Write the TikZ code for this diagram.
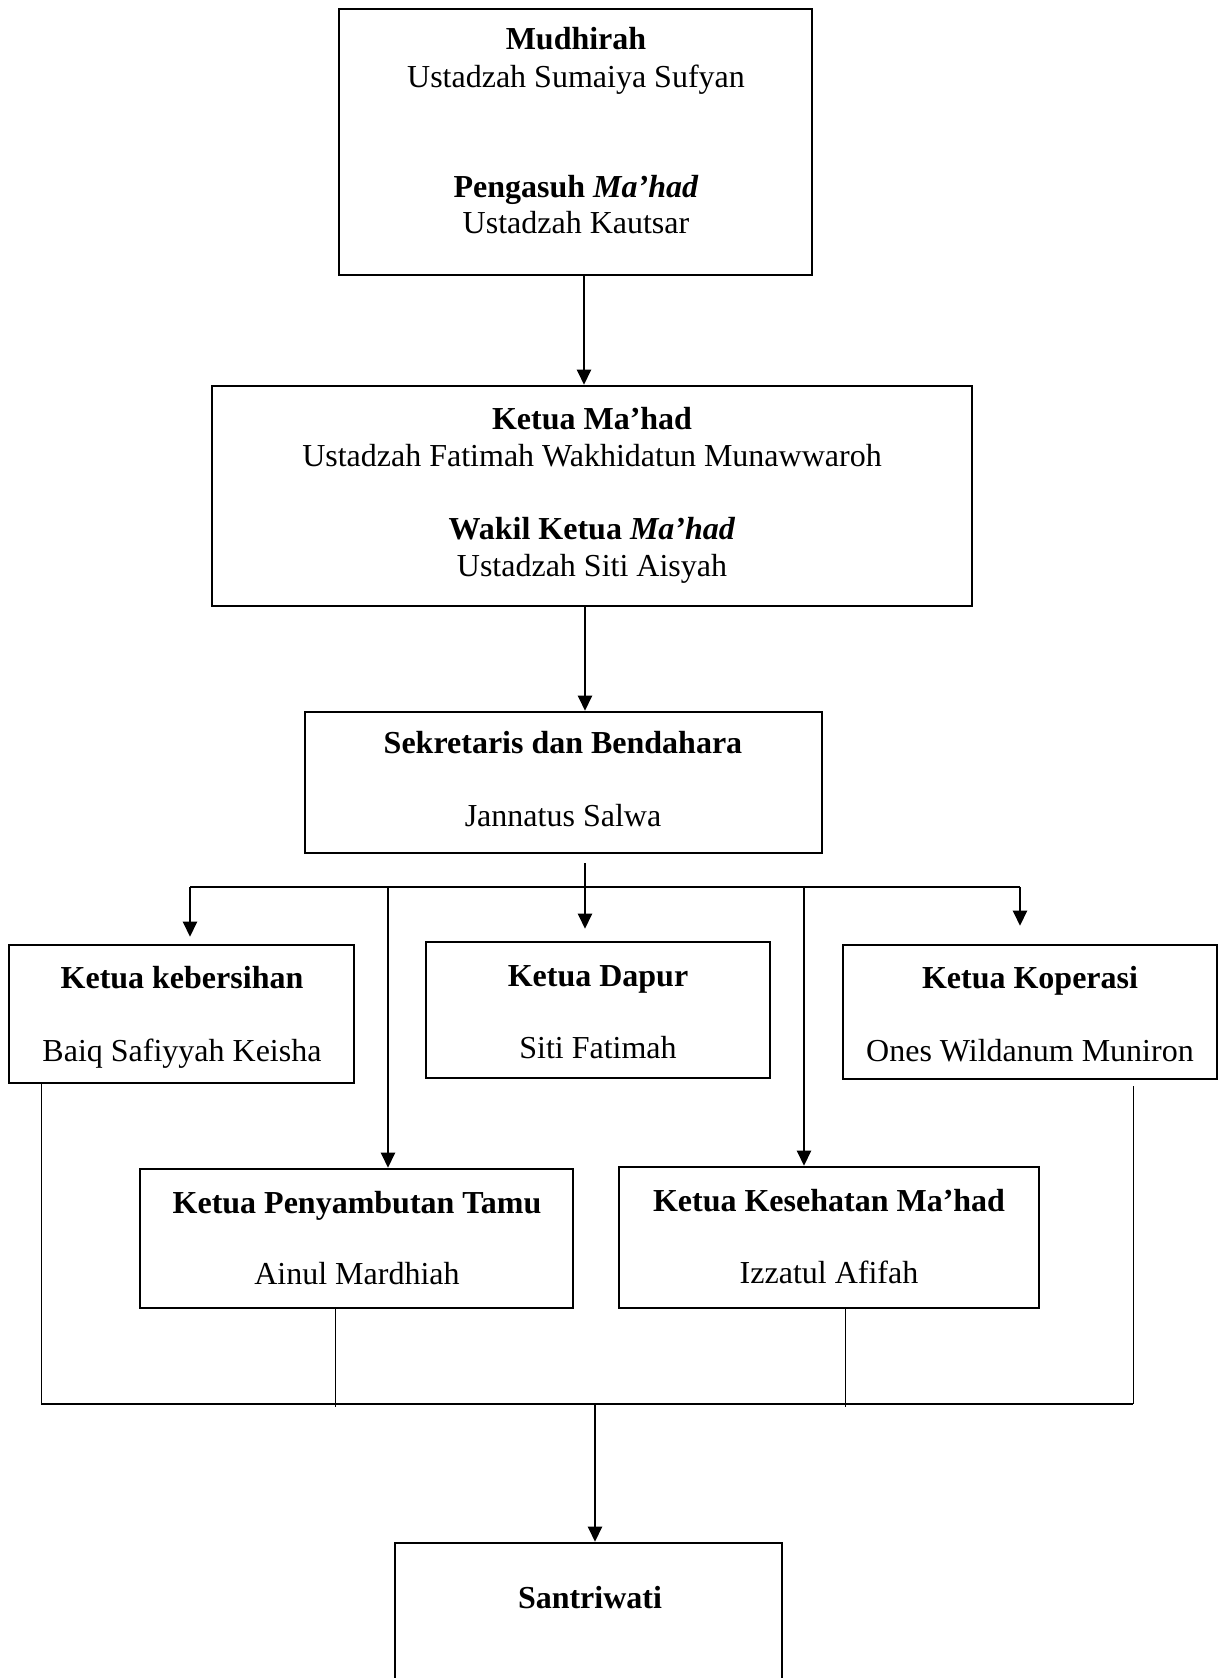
\documentclass[tikz,border=0pt]{standalone}
\usepackage{fontspec}
\setmainfont{Liberation Serif}
\usetikzlibrary{arrows.meta}
\begin{document}
\begin{tikzpicture}[x=0.5pt,y=-0.5pt,
  box/.style={draw,line width=1.3pt,rectangle,inner sep=0pt},
  lbl/.style={anchor=base,inner sep=0pt,font=\fontsize{16}{19}\selectfont},
  ttl/.style={lbl,font=\fontsize{16}{19}\selectfont\bfseries},
  ln/.style={line width=1.2pt},
  thinln/.style={line width=0.5pt},
  barln/.style={line width=0.9pt},
  arr/.style={line width=1.2pt,-{Triangle[length=7.5pt,width=7pt]}}]
\useasboundingbox (0,0) rectangle (1227,1678);
\clip (0,0) rectangle (1227,1678);
% boxes
\node[box,minimum width=236.5pt,minimum height=133pt] (b1) at (575.5,142) {};
\node[box,minimum width=380pt,minimum height=110pt] (b2) at (592,496) {};
\node[box,minimum width=258.5pt,minimum height=70.5pt] (b3) at (563.5,782.5) {};
\node[box,minimum width=172.5pt,minimum height=69pt] (k1) at (181.5,1014) {};
\node[box,minimum width=172pt,minimum height=68pt] (k2) at (598,1010) {};
\node[box,minimum width=187pt,minimum height=67pt] (k3) at (1030,1012) {};
\node[box,minimum width=216.5pt,minimum height=69.5pt] (k4) at (356.5,1238.5) {};
\node[box,minimum width=210pt,minimum height=70.5pt] (k5) at (829,1237.5) {};
\node[box,minimum width=193.5pt,minimum height=78.5pt] (s) at (588.5,1621.5) {};
% texts
\node[ttl] (t1a) at (576,49) {Mudhirah};
\node[lbl] (t1b) at (576,87) {Ustadzah Sumaiya Sufyan};
\node[ttl] (t1c) at (576,197) {Pengasuh \textit{Ma’had}};
\node[lbl] (t1d) at (576,233) {Ustadzah Kautsar};
\node[ttl] (t2a) at (592,429) {Ketua Ma’had};
\node[lbl] (t2b) at (592,466) {Ustadzah Fatimah Wakhidatun Munawwaroh};
\node[ttl] (t2c) at (592,539) {Wakil Ketua \textit{Ma’had}};
\node[lbl] (t2d) at (592,576) {Ustadzah Siti Aisyah};
\node[ttl] (t3a) at (563,753) {Sekretaris dan Bendahara};
\node[lbl] (t3b) at (563,826) {Jannatus Salwa};
\node[ttl] (tk1a) at (182,988) {Ketua kebersihan};
\node[lbl] (tk1b) at (182,1061) {Baiq Safiyyah Keisha};
\node[ttl] (tk2a) at (598,986) {Ketua Dapur};
\node[lbl] (tk2b) at (598,1058) {Siti Fatimah};
\node[ttl] (tk3a) at (1030,988) {Ketua Koperasi};
\node[lbl] (tk3b) at (1030,1061) {Ones Wildanum Muniron};
\node[ttl] (tk4a) at (357,1213) {Ketua Penyambutan Tamu};
\node[lbl] (tk4b) at (357,1284) {Ainul Mardhiah};
\node[ttl] (tk5a) at (829,1211) {Ketua Kesehatan Ma’had};
\node[lbl] (tk5b) at (829,1283) {Izzatul Afifah};
\node[ttl] (ts) at (590,1608) {Santriwati};
% coordinates
\coordinate (x1) at (584,0);
\coordinate (x2) at (585,0);
\coordinate (jL) at (190,887);
\coordinate (jR) at (1020,887);
\coordinate (jM) at (585,887);
\coordinate (j2) at (388,887);
\coordinate (j4) at (804,887);
\coordinate (bL) at (41,1404);
\coordinate (bR) at (1133,1404);
\coordinate (bP) at (335,1407);
\coordinate (bK) at (845,1407);
\coordinate (bM) at (595,1404);
% connectors
\draw[arr] (x1 |- b1.south) -- (x1 |- b2.north);
\draw[arr] (x2 |- b2.south) -- (x2 |- b3.north);
\draw[ln] ([yshift=-4.5pt]b3.south -| jM) -- (jM);
\draw[ln] (jL) -- (jR);
\draw[arr,shorten >=3.5pt] (jL) -- (jL |- k1.north);
\draw[arr,shorten >=6pt] (jM) -- (jM |- k2.north);
\draw[arr,shorten >=9pt] (jR) -- (jR |- k3.north);
\draw[arr] (j2) -- (j2 |- k4.north);
\draw[arr] (j4) -- (j4 |- k5.north);
\draw[thinln] (k1.south -| bL) -- (bL);
\draw[thinln] ([yshift=-3pt]k3.south -| bR) -- (bR);
\draw[thinln] (k4.south -| bP) -- (bP);
\draw[thinln] (k5.south -| bK) -- (bK);
\draw[barln] (bL) -- (bR);
\draw[arr] (bM) -- (bM |- s.north);
\end{tikzpicture}
\end{document}
